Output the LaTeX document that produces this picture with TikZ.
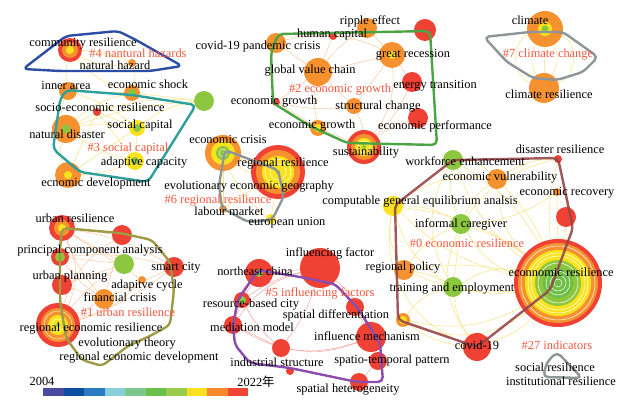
\documentclass[tikz,border=0pt]{standalone}
\usepackage{fontspec}
\setmainfont{Liberation Serif}
\newfontfamily\cjk{Noto Sans CJK SC}
\usepackage{tikz}
\usetikzlibrary{positioning}
\definecolor{nred}{HTML}{EF4134}
\definecolor{norange}{HTML}{F5922F}
\definecolor{nyellow}{HTML}{F9E31F}
\definecolor{ngreen}{HTML}{8DC63F}
\definecolor{ndgreen}{HTML}{6DBE45}
\definecolor{labred}{HTML}{F2573F}
\definecolor{linky}{HTML}{F9E07A}
\definecolor{linko}{HTML}{F8C49A}
\definecolor{linkr}{HTML}{F3A09C}
\definecolor{hblue}{HTML}{2B4DA6}
\definecolor{hteal}{HTML}{2E9F9D}
\definecolor{hgreen}{HTML}{4BA544}
\definecolor{hgray}{HTML}{8E9598}
\definecolor{holive}{HTML}{9E9B47}
\definecolor{hpurple}{HTML}{8B4CAE}
\definecolor{hbrown}{HTML}{974549}
\definecolor{cb1}{HTML}{4A4AA0}
\definecolor{cb2}{HTML}{0B4EA2}
\definecolor{cb3}{HTML}{2A7AC4}
\definecolor{cb4}{HTML}{86D0DC}
\definecolor{cb5}{HTML}{7DC88C}
\definecolor{cb6}{HTML}{6CC04A}
\definecolor{cb7}{HTML}{98CB4E}
\definecolor{cb8}{HTML}{FBE122}
\definecolor{cb9}{HTML}{F7882A}
\definecolor{cb10}{HTML}{F04634}
\pgfdeclarelayer{background}
\pgfsetlayers{background,main}

\begin{document}
\begin{tikzpicture}[x=1pt,y=-1pt,
  every node/.style={font=\fontsize{12.4}{14}\selectfont},
  kw/.style={circle,inner sep=0pt,minimum size=#1pt},
  lab/.style={inner sep=0pt,text height=8.5pt,text depth=2.5pt},
  clab/.style={lab,text=labred},
  hull/.style={line width=2.4pt,rounded corners=5pt,line join=round},
  ylink/.style={draw=linky,line width=0.45pt},
  olink/.style={draw=linko,line width=0.45pt},
  rlink/.style={draw=linkr,line width=0.45pt}]
\useasboundingbox (0,0) rectangle (635,403);
% #4
\node[kw=24,fill=nred] (comres) at (70,50) {};
\fill[norange] (comres) circle[radius=8pt];
\fill[nyellow] (comres) circle[radius=4pt];
\node[kw=8,fill=norange] (nathaz) at (132,63) {};
% #3
\node[kw=18,fill=norange] (innerarea) at (68,91) {};
\node[kw=16,fill=norange] (econshock) at (132,93) {};
\fill[ngreen] (econshock) circle[radius=4pt];
\node[kw=20,fill=ngreen] (greenc) at (204,101) {};
\node[kw=8,fill=nred] (socecres) at (97,112) {};
\node[kw=16,fill=nyellow] (socialcap) at (137,128) {};
\fill[ngreen] (socialcap) circle[radius=4pt];
\node[kw=28,fill=norange] (natdis) at (66,129) {};
\fill[ngreen] (natdis) circle[radius=4.5pt];
\node[kw=18,fill=nyellow] (adaptcap) at (135,161) {};
\fill[ngreen] (adaptcap) circle[radius=4pt];
\node[kw=26,fill=norange] (ecodev) at (68,175) {};
\fill[nyellow] (ecodev) circle[radius=4pt];
% #2
\node[kw=20,fill=norange] (ripple) at (367,28) {};
\node[kw=8,fill=nred] (humancap) at (333,36) {};
\node[kw=22,fill=nred] (redtop) at (425,30) {};
\node[kw=20,fill=norange] (covidpc) at (276,43) {};
\node[kw=26,fill=norange] (recession) at (392,55) {};
\fill[nyellow] (recession) circle[radius=4pt];
\node[kw=28,fill=norange] (gvc) at (318,72) {};
\node[kw=20,fill=nred] (energy) at (412,82) {};
\node[kw=8,fill=nred] (growtha) at (276,102) {};
\node[kw=16,fill=norange] (structural) at (354,106) {};
\node[kw=20,fill=nred] (perf) at (418,118) {};
\node[kw=16,fill=norange] (growthb) at (318,128) {};
\fill[nyellow] (growthb) circle[radius=4pt];
\node[kw=34,fill=nred] (sustain) at (364,147) {};
\fill[norange] (sustain) circle[radius=13pt];
\fill[nyellow] (sustain) circle[radius=9pt];
\draw[white,line width=0.4pt] (sustain) circle[radius=6pt];
\fill[ngreen] (sustain) circle[radius=2pt];
% #7
\node[kw=36,fill=norange] (climate) at (545,29) {};
\fill[nyellow] (climate) circle[radius=7pt];
\fill[ngreen] (climate) circle[radius=3.5pt];
\node[kw=30,fill=norange] (climres) at (544,88) {};
% #6
\node[kw=36,fill=norange] (crisis) at (223,153) {};
\fill[nyellow] (crisis) circle[radius=12pt];
\fill[ngreen] (crisis) circle[radius=7pt];
\draw[white,line width=0.4pt] (crisis) circle[radius=4pt];
\node[kw=54,fill=nred] (regres) at (278,172) {};
\fill[norange] (regres) circle[radius=22pt];
\fill[nyellow] (regres) circle[radius=16pt];
\draw[white,line width=0.4pt] (regres) circle[radius=13pt] (regres) circle[radius=8pt];
\fill[ngreen] (regres) circle[radius=2pt];
\node[kw=8,fill=norange] (labour) at (223,209) {};
\node[kw=10,fill=nyellow] (european) at (271,219) {};
% #0
\node[kw=8,fill=nred] (disaster) at (558,159) {};
\node[kw=20,fill=ngreen] (workforce) at (453,160) {};
\node[kw=20,fill=norange] (vulner) at (497,179) {};
\node[kw=8,fill=norange] (recovery) at (557,192) {};
\node[kw=20,fill=nred] (redright) at (566,217) {};
\node[kw=20,fill=nyellow] (cge) at (393,206) {};
\node[kw=20,fill=ngreen] (caregiver) at (461,224) {};
\node[kw=20,fill=norange] (policy) at (404,270) {};
\node[kw=20,fill=ngreen] (training) at (453,287) {};
\node[kw=88,fill=nred] (econres) at (558,283) {};
\fill[norange] (econres) circle[radius=40pt];
\fill[nyellow] (econres) circle[radius=33pt];
\fill[ngreen] (econres) circle[radius=23pt];
\fill[ndgreen] (econres) circle[radius=15pt];
\draw[white,line width=0.5pt] (econres) circle[radius=37pt] (econres) circle[radius=30pt] (econres) circle[radius=27pt]
  (econres) circle[radius=20pt] (econres) circle[radius=12pt] (econres) circle[radius=8pt] (econres) circle[radius=4pt];
\node[kw=14,fill=norange] (orangedot) at (403,320) {};
\fill[nyellow] (orangedot) circle[radius=4pt];
\node[kw=28,fill=nred] (covid) at (477,347) {};
% #1
\node[kw=26,fill=nred] (urbanres) at (62,228) {};
\fill[norange] (urbanres) circle[radius=8pt];
\fill[nyellow] (urbanres) circle[radius=4pt];
\node[kw=20,fill=nred] (redleft) at (122,235) {};
\node[kw=18,fill=nred] (pca) at (60,257) {};
\fill[ngreen] (pca) circle[radius=5pt];
\node[kw=20,fill=ngreen] (greenleft) at (124,264) {};
\node[kw=20,fill=nred] (smart) at (174,267) {};
\node[kw=20,fill=nred] (planning) at (62,285) {};
\node[kw=8,fill=norange] (adcycle) at (142,280) {};
\node[kw=20,fill=norange] (financial) at (104,299) {};
\node[kw=44,fill=nred] (regecres) at (58,325) {};
\fill[norange] (regecres) circle[radius=17pt];
\fill[nyellow] (regecres) circle[radius=10pt];
\draw[white,line width=0.4pt] (regecres) circle[radius=14pt] (regecres) circle[radius=6pt];
\fill[ngreen] (regecres) circle[radius=2pt];
% #5
\node[kw=40,fill=nred] (factor) at (320,268) {};
\node[kw=28,fill=nred] (northeast) at (259,273) {};
\fill[ngreen] (northeast) circle[radius=4pt];
\node[kw=16,fill=nred] (resource) at (242,300) {};
\fill[ngreen] (resource) circle[radius=4pt];
\node[kw=18,fill=nred] (spatdiff) at (355,307) {};
\node[kw=18,fill=nred] (mediation) at (233,325) {};
\node[kw=30,fill=nred] (mechanism) at (371,337) {};
\node[kw=18,fill=nred] (industry) at (281,348) {};
\node[kw=18,fill=nred] (spatiotemp) at (378,361) {};
\node[kw=18,fill=nred] (hetero) at (359,382) {};
\node[kw=8,fill=nred] (indsmall) at (290,371) {};
%
\begin{pgfonlayer}{background}
\draw[ylink] (comres) to[bend left=10] (nathaz);
\draw[ylink] (comres) to[bend right=20] (nathaz);
\draw[ylink] (comres) to[bend right=15] (econshock);
\draw[ylink] (comres) to[bend right=10] (innerarea);
\draw[ylink] (nathaz) to[bend left=15] (econshock);
\draw[ylink] (natdis) -- (socecres);
\draw[ylink] (natdis) to[bend left=10] (socialcap);
\draw[ylink] (natdis) to[bend right=10] (adaptcap);
\draw[ylink] (natdis) to[bend left=15] (econshock);
\draw[ylink] (natdis) to[bend left=8] (greenc);
\draw[ylink] (innerarea) -- (econshock);
\draw[ylink] (innerarea) to[bend left=10] (socialcap);
\draw[ylink] (socecres) -- (adaptcap);
\draw[ylink] (socecres) -- (ecodev);
\draw[ylink] (socecres) -- (socialcap);
\draw[ylink] (socecres) to[bend left=10] (greenc);
\draw[ylink] (econshock) -- (greenc);
\draw[ylink] (socialcap) -- (adaptcap);
\draw[ylink] (socialcap) to[bend left=15] (greenc);
\draw[ylink] (ecodev) to[bend right=10] (adaptcap);
\draw[ylink] (ecodev) -- (socialcap);
\draw[ylink] (natdis) to[bend right=20] (ecodev);
\draw[ylink] (innerarea) to[bend right=20] (natdis);
%
\draw[olink] (gvc) -- (covidpc);
\draw[olink] (gvc) -- (humancap);
\draw[olink] (gvc) to[bend left=10] (ripple);
\draw[olink] (gvc) -- (recession);
\draw[olink] (gvc) -- (growtha);
\draw[olink] (gvc) -- (structural);
\draw[olink] (gvc) to[bend right=10] (growthb);
\draw[olink] (recession) -- (ripple);
\draw[olink] (recession) -- (structural);
\draw[olink] (recession) -- (energy);
\draw[olink] (recession) to[bend right=10] (humancap);
\draw[olink] (structural) to[bend left=10] (sustain);
\draw[olink] (growthb) -- (sustain);
\draw[olink] (sustain) to[bend left=10] (perf);
\draw[olink] (humancap) -- (ripple);
\draw[olink] (covidpc) to[bend right=15] (growtha);
\draw[olink] (covidpc) to[bend left=10] (humancap);
\draw[olink] (structural) to[bend left=10] (growtha);
\draw[olink] (growthb) -- (growtha);
\draw[olink] (recession) to[bend left=20] (sustain);
\draw[olink] (sustain) to[bend right=10] (energy);
%
\draw[ylink] (climate) -- (climres);
\draw[ylink] (climate) to[bend left=30] (climres);
\draw[ylink] (climate) to[bend right=30] (climres);
\draw[ylink] (climate) to[bend left=70] (climres);
\draw[ylink] (climate) to[bend right=70] (climres);
%
\draw[ylink] (crisis) -- (regres);
\draw[ylink] (crisis) to[bend right=20] (regres);
\draw[ylink] (crisis) -- (labour);
\draw[ylink] (regres) -- (european);
\draw[ylink] (crisis) to[bend right=15] (european);
\draw[ylink] (labour) -- (regres);
%
\draw[ylink] (econres) to[bend right=15] (workforce);
\draw[ylink] (econres) to[bend left=15] (workforce);
\draw[ylink] (econres) to[bend right=10] (vulner);
\draw[ylink] (econres) to[bend left=20] (vulner);
\draw[ylink] (econres) to[bend right=10] (disaster);
\draw[ylink] (econres) to[bend left=10] (disaster);
\draw[ylink] (econres) -- (recovery);
\draw[ylink] (econres) -- (redright);
\draw[ylink] (econres) to[bend right=15] (cge);
\draw[ylink] (econres) to[bend left=15] (cge);
\draw[ylink] (econres) to[bend right=10] (caregiver);
\draw[ylink] (econres) to[bend left=20] (caregiver);
\draw[ylink] (econres) to[bend right=10] (policy);
\draw[ylink] (econres) to[bend left=15] (policy);
\draw[ylink] (econres) to[bend right=20] (training);
\draw[ylink] (econres) to[bend left=10] (training);
\draw[ylink] (econres) to[bend left=20] (orangedot);
\draw[ylink] (econres) to[bend left=30] (orangedot);
\draw[ylink] (econres) to[bend left=15] (covid);
\draw[ylink] (cge) to[bend left=15] (caregiver);
\draw[ylink] (cge) to[bend right=20] (training);
\draw[ylink] (cge) to[bend left=20] (vulner);
\draw[ylink] (workforce) to[bend right=15] (caregiver);
\draw[ylink] (workforce) to[bend left=20] (vulner);
\draw[ylink] (vulner) to[bend right=15] (caregiver);
\draw[ylink] (policy) to[bend left=10] (training);
\draw[ylink] (policy) to[bend left=15] (caregiver);
\draw[ylink] (training) -- (caregiver);
\draw[ylink] (training) to[bend right=15] (covid);
\draw[ylink] (orangedot) to[bend left=20] (training);
\draw[ylink] (cge) to[bend right=20] (policy);
\draw[ylink] (orangedot) to[bend right=15] (covid);
\draw[ylink] (workforce) to[bend right=30] (training);
\draw[ylink] (disaster) to[bend right=20] (caregiver);
\draw[ylink] (disaster) to[bend right=15] (vulner);
\draw[ylink] (recovery) to[bend left=15] (caregiver);
\draw[ylink] (caregiver) to[bend right=30] (covid);
\draw[ylink] (cge) to[bend right=40] (covid);
%
\draw[olink] (urbanres) -- (redleft);
\draw[olink] (urbanres) -- (greenleft);
\draw[olink] (urbanres) to[bend left=10] (smart);
\draw[olink] (urbanres) to[bend right=10] (financial);
\draw[olink] (urbanres) -- (adcycle);
\draw[olink] (pca) -- (greenleft);
\draw[olink] (pca) to[bend right=10] (financial);
\draw[olink] (pca) to[bend left=10] (smart);
\draw[olink] (planning) -- (financial);
\draw[olink] (planning) -- (greenleft);
\draw[olink] (regecres) -- (financial);
\draw[olink] (regecres) to[bend left=10] (greenleft);
\draw[olink] (regecres) to[bend right=10] (smart);
\draw[olink] (regecres) to[bend right=15] (adcycle);
\draw[olink] (regecres) to[bend right=25] (urbanres);
\draw[olink] (smart) -- (financial);
\draw[olink] (redleft) -- (financial);
\draw[olink] (regecres) to[bend left=20] (redleft);
%
\draw[rlink] (factor) -- (northeast);
\draw[rlink] (factor) to[bend right=10] (resource);
\draw[rlink] (factor) to[bend left=15] (mechanism);
\draw[rlink] (factor) to[bend right=20] (mediation);
\draw[rlink] (factor) -- (spatdiff);
\draw[rlink] (northeast) -- (resource);
\draw[rlink] (resource) -- (mediation);
\draw[rlink] (mediation) -- (industry);
\draw[rlink] (industry) to[bend right=15] (mechanism);
\draw[rlink] (mechanism) -- (spatdiff);
\draw[rlink] (mechanism) -- (spatiotemp);
\draw[rlink] (spatiotemp) -- (hetero);
\draw[rlink] (resource) to[bend right=10] (industry);
\draw[rlink] (northeast) to[bend right=20] (mediation);
\draw[rlink] (mediation) to[bend right=25] (mechanism);
\draw[rlink] (industry) -- (indsmall);
\draw[rlink] (factor) to[bend left=10] (industry);
\end{pgfonlayer}
% cluster outlines
\draw[hull,hblue] (23,69) -- (66,36) -- (118,31) -- (136,40) -- (182,66) -- (150,71) -- (60,71) -- cycle;
\draw[hull,hteal] (66,90) -- (132,95) -- (196,105) -- (148,182) -- (80,172) -- (53,149) -- (60,100) -- cycle;
\draw[hull,hgreen] (278,34) -- (430,31) -- (437,145) -- (347,143) -- (310,126) -- (273,103) -- (271,53) -- cycle;
\draw[hull,hgray] (484,37) -- (530,32) -- (563,32) -- (598,57) -- (583,72) -- (557,80) -- (533,78) -- (507,62) -- cycle;
\draw[hull,hgray] (225,150) -- (278,170) -- (284,196) -- (272,220) -- (248,222) -- (222,208) -- (219,185) -- cycle;
\draw[hull,hbrown,opacity=0.9] (395,205) -- (453,160) -- (558,158) -- (573,228) -- (550,290) -- (477,347) -- (398,320) -- cycle;
\draw[hull,hgray] (547,362) -- (557,352) -- (582,378) -- (543,377) -- cycle;
\draw[hull,holive] (62,228) -- (120,233) -- (152,240) -- (170,262) -- (174,290) -- (170,325) -- (150,336) -- (128,346)
  -- (102,366) -- (82,360) -- (66,338) -- (60,300) -- (60,250) -- cycle;
\draw[hull,hpurple] (258,270) -- (300,277) -- (335,284) -- (357,307) -- (380,343) -- (383,382) -- (357,382) -- (290,368)
  -- (250,363) -- (235,345) -- (233,325) -- (238,300) -- cycle;
% labels
\node[lab] (t-comres) at (83,44) {community resilience};
\node[clab] (c4) at (138,55) {\#4 nantural hazards};
\node[lab] (t-nathaz) at (115,67) {natural hazard};
\node[lab] (t-innerarea) at (66,87) {inner area};
\node[lab] (t-econshock) at (148,86) {economic shock};
\node[lab] (t-socecres) at (100,109) {socio-economic resilience};
\node[lab] (t-socialcap) at (140,126) {social capital};
\node[lab] (t-natdis) at (67,136) {natural disaster};
\node[clab] (c3) at (128,149) {\#3 social capital};
\node[lab] (t-adaptcap) at (144,163) {adaptive capacity};
\node[lab] (t-ecodev) at (96,184) {ecnomic development};
%
\node[lab] (t-ripple) at (370,22) {ripple effect};
\node[lab] (t-humancap) at (332,35) {human capital};
\node[lab] (t-covidpc) at (258,47) {covid-19 pandemic crisis};
\node[lab] (t-recession) at (413,55) {great recession};
\node[lab] (t-gvc) at (310,71) {global value chain};
\node[clab] (c2) at (340,90) {\#2 economic growth};
\node[lab] (t-energy) at (435,86) {energy transition};
\node[lab] (t-growtha) at (274,102) {economic growth};
\node[lab] (t-structural) at (378,107) {structural change};
\node[lab] (t-perf) at (435,127) {economic performance};
\node[lab] (t-growthb) at (312,126) {economic growth};
\node[lab] (t-sustain) at (366,153) {sustainability};
%
\node[lab] (t-climate) at (530,22) {climate};
\node[clab] (c7) at (548,55) {\#7 climate change};
\node[lab] (t-climres) at (549,96) {climate resilience};
%
\node[lab] (t-crisis) at (228,141) {economic crisis};
\node[lab] (t-regres) at (283,164) {regional resilience};
\node[lab] (t-eeg) at (249,187) {evolutionary economic geography};
\node[clab] (c6) at (218,201) {\#6 regional resilience};
\node[lab] (t-labour) at (229,213) {labour market};
\node[lab] (t-european) at (287,223) {european union};
%
\node[lab] (t-disaster) at (560,151) {disaster resilience};
\node[lab] (t-workforce) at (465,163) {workforce enhancement};
\node[lab] (t-vulner) at (500,178) {economic vulnerability};
\node[lab] (t-recovery) at (567,193) {economic recovery};
\node[lab] (t-cge) at (420,202) {computable general equilibrium analsis};
\node[lab] (t-caregiver) at (461,225) {informal caregiver};
\node[clab] (c0) at (467,245) {\#0 economic resilience};
\node[lab] (t-policy) at (403,268) {regional policy};
\node[lab] (t-training) at (452,289) {training and employment};
\node[lab] (t-econres) at (561,274) {econnomic resilience};
\node[lab] (t-covid) at (477,347) {covid-19};
\node[clab] (c27) at (557,347) {\#27 indicators};
\node[lab] (t-socres) at (555,369) {social resilience};
\node[lab] (t-instres) at (561,383) {institutional resilience};
%
\node[lab] (t-urbanres) at (75,220) {urban resilience};
\node[lab] (t-pca) at (90,251) {principal component analysis};
\node[lab] (t-smart) at (176,268) {smart city};
\node[lab] (t-planning) at (70,277) {urban planning};
\node[lab] (t-adcycle) at (147,286) {adapitve cycle};
\node[lab] (t-financial) at (120,299) {financial crisis};
\node[clab] (c1) at (128,314) {\#1 urban resilience};
\node[lab] (t-regecres) at (91,329) {regional economic resilience};
\node[lab] (t-evo) at (127,344) {evolutionary theory};
\node[lab] (t-regdev) at (139,358) {regional economic development};
%
\node[lab] (t-factor) at (330,254) {influencing factor};
\node[lab] (t-northeast) at (255,273) {northeast china};
\node[clab] (c5) at (320,294) {\#5 influencing factors};
\node[lab] (t-resource) at (251,305) {resource-based city};
\node[lab] (t-spatdiff) at (336,316) {spatial differentiation};
\node[lab] (t-mediation) at (252,329) {mediation model};
\node[lab] (t-mechanism) at (367,338) {influence mechanism};
\node[lab] (t-spatiotemp) at (392,361) {spatio-temporal pattern};
\node[lab] (t-industry) at (277,364) {industrial structure};
\node[lab] (t-hetero) at (348,389) {spatial heterogeneity};
% colour bar
\fill[cb1] (43,388) rectangle (63.5,396);
\fill[cb2] (63.5,388) rectangle (84,396);
\fill[cb3] (84,388) rectangle (104.5,396);
\fill[cb4] (104.5,388) rectangle (125,396);
\fill[cb5] (125,388) rectangle (145.5,396);
\fill[cb6] (145.5,388) rectangle (166,396);
\fill[cb7] (166,388) rectangle (186.5,396);
\fill[cb8] (186.5,388) rectangle (207,396);
\fill[cb9] (207,388) rectangle (227.5,396);
\fill[cb10] (227.5,388) rectangle (248,396);
\node[lab] (y-start) at (42,383) {2004};
\node[lab] (y-end) at (256,384) {2022{\cjk 年}};
\end{tikzpicture}
\end{document}
